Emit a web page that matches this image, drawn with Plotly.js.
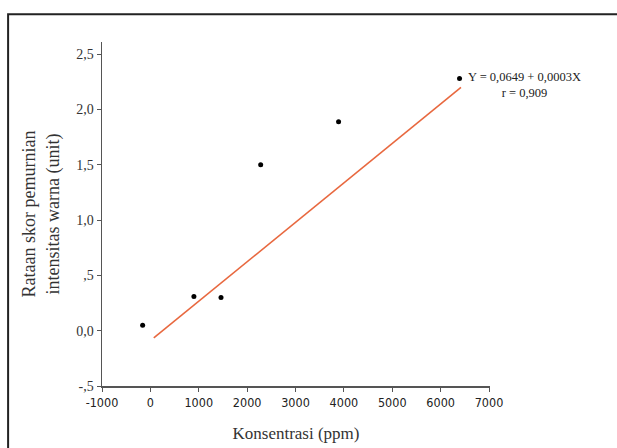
<!DOCTYPE html>
<html>
<head>
<meta charset="utf-8">
<script src="https://cdn.plot.ly/plotly-3.0.1.min.js"></script>
<style>html,body{margin:0;padding:0;background:#fff;}#chart{width:617px;height:448px;}</style>
</head>
<body>
<div id="chart"></div>
<script>
// Observed data points
const concentration = [-160, 900, 1460, 2280, 3890, 6390];
const colorScore = [0.05, 0.31, 0.30, 1.50, 1.89, 2.28];
// Regression line end points as drawn
const fitX = [70, 6420];
const fitY = [-0.066, 2.20];
// Axis ticks
const yTickVals = [-0.5, 0, 0.5, 1.0, 1.5, 2.0, 2.5];
const yTickText = ['-,5', '0,0', ',5', '1,0', '1,5', '2,0', '2,5'];
const xTickVals = [-1000, 0, 1000, 2000, 3000, 4000, 5000, 6000, 7000];
const xTickText = ['-1000', '0', '1000', '2000', '3000', '4000', '5000', '6000', '7000'];
const equationText = 'Y = 0,0649 + 0,0003X<br>r = 0,909';

const serif = 'Liberation Serif, Times New Roman, serif';
const traces = [
  {x: fitX, y: fitY, mode: 'lines', type: 'scatter',
   line: {color: '#e8683f', width: 1.6}, hoverinfo: 'skip'},
  {x: concentration, y: colorScore, mode: 'markers', type: 'scatter',
   marker: {color: '#000', size: 5}}
];
const layout = {
  width: 617, height: 448,
  margin: {l: 102, r: 127, t: 42, b: 62},
  paper_bgcolor: '#fff', plot_bgcolor: '#fff',
  showlegend: false,
  xaxis: {
    range: [-1000, 7020], showgrid: false, zeroline: false,
    showline: true, linecolor: '#555', linewidth: 1.5,
    ticks: 'outside', ticklen: 4, tickcolor: '#555',
    tickvals: xTickVals, ticktext: xTickText,
    tickfont: {family: 'DejaVu Sans Condensed, Liberation Sans, sans-serif', size: 12.5, color: '#222'},
    title: {text: 'Konsentrasi (ppm)', font: {family: serif, size: 17, color: '#333'}, standoff: 18}
  },
  yaxis: {
    range: [-0.5, 2.61], showgrid: false, zeroline: false,
    showline: true, linecolor: '#555', linewidth: 1.5,
    ticks: 'outside', ticklen: 4, tickcolor: '#555',
    tickvals: yTickVals, ticktext: yTickText,
    tickfont: {family: serif, size: 14, color: '#333'},
    title: {text: 'Rataan skor pemurnian<br>intensitas warna (unit)', font: {family: serif, size: 18, color: '#333'}, standoff: 12}
  },
  annotations: [{
    xref: 'paper', yref: 'paper', x: 1.088, y: 0.875, xanchor: 'center', yanchor: 'middle',
    text: equationText, showarrow: false, align: 'center',
    font: {family: serif, size: 12.5, color: '#222'}
  }],
  shapes: [{
    type: 'rect', xref: 'paper', yref: 'paper',
    x0: -0.242, x1: 1.5, y0: -0.5, y1: 1.081,
    line: {color: '#222', width: 2}, fillcolor: 'rgba(0,0,0,0)', layer: 'above'
  }]
};
Plotly.newPlot('chart', traces, layout, {displayModeBar: false, staticPlot: true});
</script>
</body>
</html>
